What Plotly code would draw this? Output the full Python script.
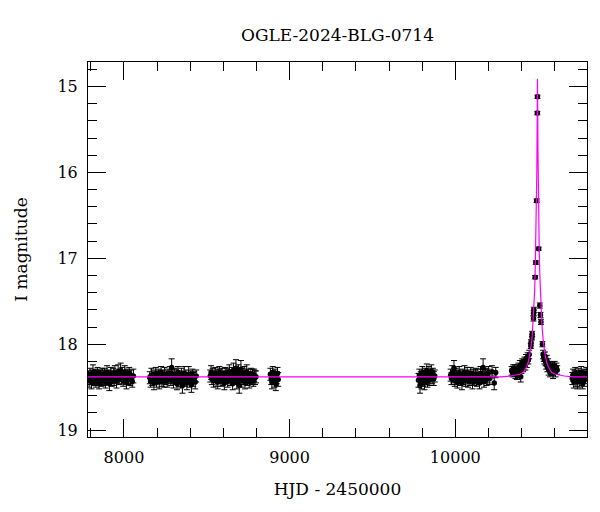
import plotly.graph_objects as go

# OGLE photometry (HJD - 2450000, I mag, error)
s1_hjd = [7786, 7790, 7795, 7799, 7804, 7808, 7813, 7818, 7822, 7827,
          7831, 7836, 7841, 7846, 7850, 7855, 7860, 7864, 7869, 7874,
          7879, 7883, 7888, 7893, 7898, 7902, 7907, 7912, 7917, 7921,
          7926, 7931, 7936, 7941, 7945, 7950, 7955, 7960, 7965, 7970,
          7975, 7980, 7985, 7990, 7995, 8000, 8005, 8010, 8015, 8020,
          8026, 8032, 8038, 8044, 8050, 8057]
s1_mag = [18.38, 18.42, 18.35, 18.40, 18.44, 18.37, 18.33, 18.41, 18.39, 18.36,
          18.43, 18.38, 18.34, 18.40, 18.45, 18.37, 18.39, 18.42, 18.35, 18.38,
          18.41, 18.36, 18.44, 18.39, 18.33, 18.40, 18.37, 18.46, 18.38, 18.35,
          18.42, 18.39, 18.36, 18.41, 18.34, 18.38, 18.43, 18.37, 18.32, 18.40,
          18.36, 18.31, 18.39, 18.35, 18.42, 18.37, 18.33, 18.40, 18.44, 18.36,
          18.39, 18.34, 18.41, 18.38, 18.43, 18.37]
s1_err = [0.07, 0.08, 0.07, 0.07, 0.08, 0.07, 0.09, 0.07, 0.08, 0.07,
          0.07, 0.08, 0.07, 0.08, 0.07, 0.07, 0.08, 0.07, 0.07, 0.08,
          0.07, 0.08, 0.07, 0.07, 0.08, 0.07, 0.07, 0.08, 0.07, 0.08,
          0.07, 0.07, 0.08, 0.07, 0.09, 0.07, 0.08, 0.07, 0.08, 0.07,
          0.07, 0.09, 0.07, 0.08, 0.07, 0.07, 0.08, 0.07, 0.08, 0.07,
          0.08, 0.07, 0.07, 0.08, 0.07, 0.08]

s2_hjd = [8156, 8161, 8166, 8171, 8176, 8181, 8187, 8192, 8197, 8202,
          8208, 8213, 8218, 8224, 8229, 8234, 8240, 8245, 8250, 8256,
          8261, 8266, 8272, 8277, 8283, 8288, 8293, 8299, 8304, 8310,
          8315, 8320, 8326, 8331, 8337, 8342, 8347, 8353, 8358, 8364,
          8369, 8374, 8380, 8385, 8391, 8396, 8402, 8407, 8413, 8418,
          8424, 8430, 8436]
s2_mag = [18.39, 18.43, 18.36, 18.41, 18.37, 18.45, 18.40, 18.34, 18.42, 18.38,
          18.36, 18.44, 18.39, 18.33, 18.41, 18.37, 18.43, 18.35, 18.40, 18.38,
          18.42, 18.36, 18.39, 18.34, 18.41, 18.27, 18.38, 18.43, 18.35, 18.40,
          18.37, 18.46, 18.33, 18.41, 18.38, 18.44, 18.36, 18.48, 18.39, 18.34,
          18.42, 18.37, 18.45, 18.40, 18.35, 18.43, 18.38, 18.47, 18.36, 18.41,
          18.39, 18.44, 18.37]
s2_err = [0.07, 0.07, 0.08, 0.07, 0.07, 0.08, 0.07, 0.07, 0.08, 0.07,
          0.07, 0.08, 0.07, 0.07, 0.08, 0.07, 0.07, 0.08, 0.07, 0.07,
          0.08, 0.07, 0.07, 0.08, 0.07, 0.10, 0.07, 0.08, 0.07, 0.07,
          0.08, 0.07, 0.07, 0.08, 0.07, 0.07, 0.08, 0.09, 0.07, 0.08,
          0.07, 0.07, 0.08, 0.07, 0.09, 0.07, 0.07, 0.09, 0.07, 0.08,
          0.07, 0.08, 0.07]

s3_hjd = [8521, 8526, 8531, 8536, 8541, 8546, 8551, 8556, 8561, 8566,
          8571, 8576, 8581, 8586, 8591, 8596, 8601, 8606, 8611, 8616,
          8621, 8626, 8631, 8636, 8641, 8646, 8651, 8656, 8661, 8666,
          8671, 8676, 8681, 8686, 8691, 8696, 8701, 8706, 8711, 8716,
          8721, 8726, 8731, 8736, 8741, 8746, 8751, 8756, 8761, 8766,
          8771, 8776, 8781, 8786, 8791, 8797]
s3_mag = [18.37, 18.33, 18.40, 18.35, 18.42, 18.38, 18.34, 18.41, 18.36, 18.44,
          18.39, 18.33, 18.37, 18.42, 18.35, 18.40, 18.38, 18.45, 18.34, 18.39,
          18.36, 18.43, 18.37, 18.32, 18.41, 18.38, 18.35, 18.46, 18.31, 18.40,
          18.36, 18.28, 18.44, 18.39, 18.33, 18.48, 18.37, 18.29, 18.42, 18.35,
          18.40, 18.34, 18.45, 18.38, 18.32, 18.41, 18.36, 18.43, 18.39, 18.35,
          18.40, 18.37, 18.42, 18.36, 18.39, 18.38]
s3_err = [0.07, 0.08, 0.07, 0.07, 0.08, 0.07, 0.07, 0.08, 0.07, 0.08,
          0.07, 0.07, 0.08, 0.07, 0.07, 0.08, 0.07, 0.08, 0.07, 0.07,
          0.08, 0.07, 0.07, 0.08, 0.07, 0.07, 0.08, 0.07, 0.09, 0.07,
          0.08, 0.10, 0.08, 0.07, 0.09, 0.09, 0.07, 0.10, 0.08, 0.07,
          0.07, 0.08, 0.07, 0.07, 0.08, 0.07, 0.07, 0.08, 0.07, 0.07,
          0.07, 0.08, 0.07, 0.07, 0.08, 0.07]

s4_hjd = [8884, 8889, 8893, 8898, 8903, 8908, 8912, 8917, 8922, 8927, 8931]
s4_mag = [18.35, 18.40, 18.44, 18.33, 18.38, 18.42, 18.36, 18.46, 18.39, 18.34, 18.41]
s4_err = [0.07, 0.07, 0.08, 0.07, 0.07, 0.08, 0.07, 0.08, 0.07, 0.07, 0.08]

s5_hjd = [9778, 9783, 9787, 9792, 9796, 9801, 9805, 9810, 9814, 9819, 9823,
          9828, 9832, 9837, 9841, 9846, 9850, 9855, 9860, 9865, 9870, 9876]
s5_mag = [18.42, 18.36, 18.48, 18.39, 18.44, 18.33, 18.41, 18.37, 18.45, 18.35, 18.40,
          18.31, 18.43, 18.38, 18.34, 18.41, 18.36, 18.32, 18.39, 18.35, 18.40, 18.37]
s5_err = [0.08, 0.07, 0.09, 0.07, 0.08, 0.07, 0.08, 0.07, 0.08, 0.07, 0.07,
          0.08, 0.07, 0.07, 0.08, 0.07, 0.07, 0.08, 0.07, 0.07, 0.08, 0.07]

s6_hjd = [9972, 9977, 9982, 9987, 9992, 9997, 10003, 10008, 10013, 10018,
          10024, 10029, 10034, 10040, 10045, 10050, 10056, 10061, 10066, 10072,
          10077, 10082, 10088, 10093, 10098, 10104, 10109, 10114, 10120, 10125,
          10130, 10136, 10141, 10146, 10152, 10157, 10162, 10168, 10173, 10178,
          10184, 10189, 10195, 10201, 10208, 10222, 10235, 10244]
s6_mag = [18.36, 18.40, 18.33, 18.38, 18.28, 18.42, 18.35, 18.39, 18.44, 18.37,
          18.34, 18.41, 18.38, 18.45, 18.36, 18.40, 18.33, 18.42, 18.38, 18.35,
          18.43, 18.37, 18.40, 18.34, 18.39, 18.44, 18.36, 18.41, 18.38, 18.35,
          18.42, 18.37, 18.40, 18.45, 18.34, 18.39, 18.36, 18.27, 18.43, 18.38,
          18.35, 18.41, 18.37, 18.33, 18.40, 18.32, 18.45, 18.33]
s6_err = [0.07, 0.07, 0.08, 0.07, 0.09, 0.07, 0.07, 0.08, 0.07, 0.07,
          0.08, 0.07, 0.07, 0.08, 0.07, 0.07, 0.08, 0.07, 0.07, 0.08,
          0.07, 0.07, 0.08, 0.07, 0.07, 0.08, 0.07, 0.07, 0.08, 0.07,
          0.07, 0.08, 0.07, 0.07, 0.08, 0.07, 0.07, 0.10, 0.07, 0.08,
          0.07, 0.07, 0.08, 0.07, 0.07, 0.07, 0.08, 0.06]

pre_hjd = [10340, 10345, 10349, 10354, 10358, 10363, 10367, 10372, 10376, 10381, 10386, 10390,
           10395, 10399, 10404, 10409, 10413, 10418, 10423, 10427, 10432, 10437, 10441, 10446]
pre_mag = [18.31, 18.33, 18.30, 18.32, 18.29, 18.34, 18.31, 18.36, 18.30, 18.27, 18.33, 18.25,
           18.38, 18.29, 18.22, 18.27, 18.24, 18.20, 18.25, 18.17, 18.21, 18.15, 18.18, 18.12]
pre_err = [0.05, 0.05, 0.06, 0.05, 0.05, 0.06, 0.05, 0.05, 0.06, 0.05, 0.05, 0.06,
           0.06, 0.05, 0.05, 0.05, 0.06, 0.05, 0.05, 0.05, 0.06, 0.05, 0.05, 0.05]

peak_hjd = [10456, 10457, 10463, 10464, 10472, 10473, 10474, 10482, 10486,
            10491, 10495, 10496, 10503, 10510, 10514, 10517, 10526]
peak_mag = [18.02, 17.98, 17.92, 17.88, 17.70, 17.64, 17.60, 17.22, 17.05,
            16.33, 15.31, 15.12, 16.89, 17.55, 17.66, 17.74, 18.00]
peak_err = [0.03, 0.03, 0.03, 0.03, 0.03, 0.03, 0.03, 0.02, 0.02,
            0.02, 0.02, 0.02, 0.02, 0.03, 0.03, 0.03, 0.03]

post_hjd = [10530, 10534, 10538, 10541, 10545, 10549, 10552, 10556, 10560, 10564, 10568,
            10572, 10577, 10581, 10586, 10590, 10595, 10600, 10605, 10610, 10615]
post_mag = [18.12, 18.15, 18.18, 18.14, 18.20, 18.24, 18.19, 18.27, 18.22, 18.30, 18.25,
            18.33, 18.28, 18.31, 18.26, 18.34, 18.29, 18.25, 18.32, 18.27, 18.30]
post_err = [0.05, 0.05, 0.05, 0.05, 0.05, 0.05, 0.06, 0.05, 0.05, 0.06, 0.05,
            0.05, 0.06, 0.05, 0.05, 0.06, 0.05, 0.05, 0.06, 0.05, 0.05]

s8_hjd = [10706, 10710, 10715, 10719, 10724, 10728, 10733, 10737, 10742, 10746,
          10751, 10755, 10760, 10764, 10769, 10773, 10778, 10782, 10787, 10791]
s8_mag = [18.40, 18.36, 18.43, 18.38, 18.34, 18.41, 18.37, 18.44, 18.39, 18.35,
          18.42, 18.38, 18.33, 18.40, 18.45, 18.37, 18.41, 18.36, 18.39, 18.34]
s8_err = [0.07, 0.07, 0.08, 0.07, 0.07, 0.08, 0.07, 0.08, 0.07, 0.07,
          0.08, 0.07, 0.07, 0.08, 0.07, 0.07, 0.08, 0.07, 0.07, 0.07]

# microlensing model curve, sampled from the plot
model_hjd = [7783, 10280, 10334, 10388, 10410, 10431, 10442, 10453, 10458, 10464,
             10469, 10474, 10479, 10482, 10485, 10487.4, 10489.5, 10492, 10493, 10494,
             10495, 10496, 10497, 10498, 10499, 10500, 10502.5, 10504.6, 10506.8, 10510,
             10513.3, 10517.6, 10523, 10528.4, 10533.8, 10539.2, 10550, 10561, 10582, 10604,
             10658, 10712, 10795]
model_mag = [18.38, 18.38, 18.37, 18.35, 18.33, 18.26, 18.20, 18.09, 18.01, 17.91,
             17.77, 17.58, 17.38, 17.18, 16.92, 16.69, 16.40, 16.01, 15.75, 15.44,
             15.10, 14.91, 15.10, 15.44, 15.75, 16.01, 16.40, 16.69, 16.92, 17.18,
             17.38, 17.58, 17.77, 17.91, 18.01, 18.09, 18.20, 18.26, 18.33, 18.35,
             18.37, 18.38, 18.38]

seasons = [
    (s1_hjd, s1_mag, s1_err), (s2_hjd, s2_mag, s2_err), (s3_hjd, s3_mag, s3_err),
    (s4_hjd, s4_mag, s4_err), (s5_hjd, s5_mag, s5_err), (s6_hjd, s6_mag, s6_err),
    (pre_hjd, pre_mag, pre_err), (peak_hjd, peak_mag, peak_err),
    (post_hjd, post_mag, post_err), (s8_hjd, s8_mag, s8_err),
]

hjd, mag, err = [], [], []
for t, m, e in seasons:
    hjd += t
    mag += m
    err += e

FONT = "DejaVu Serif"

fig = go.Figure()

fig.add_trace(
    go.Scatter(
        x=hjd,
        y=mag,
        mode='markers',
        marker=dict(color='black', size=5.5),
        error_y=dict(type='data', array=err, visible=True,
                     color='black', thickness=1, width=3),
        showlegend=False
    )
)

fig.add_trace(
    go.Scatter(
        x=model_hjd,
        y=model_mag,
        mode='lines',
        line=dict(color='#ff00ff', width=1.2),
        showlegend=False
    )
)

axis_common = dict(
    showline=True, linecolor='black', linewidth=1, mirror='allticks',
    ticks='inside', ticklen=18, tickwidth=1, tickcolor='black',
    showgrid=False, zeroline=False, tickformat='d',
    tickfont=dict(family=FONT, size=16, color='black'),
)

fig.update_xaxes(
    range=[7783, 10795], tick0=0, dtick=1000,
    minor=dict(dtick=200, tick0=0, ticks='inside', ticklen=9, tickcolor='black', showgrid=False),
    title=dict(text='HJD - 2450000', font=dict(family=FONT, size=17, color='black'), standoff=16),
    ticklabelstandoff=6,
    **axis_common
)

fig.update_yaxes(
    range=[19.08, 14.715], tick0=0, dtick=1,
    minor=dict(dtick=0.2, tick0=0, ticks='inside', ticklen=9, tickcolor='black', showgrid=False),
    title=dict(text='I magnitude', font=dict(family=FONT, size=17, color='black'), standoff=25),
    ticklabelstandoff=6,
    **axis_common
)

fig.update_layout(
    width=600,
    height=512,
    margin=dict(l=88, r=13, t=62, b=75),
    paper_bgcolor='white',
    plot_bgcolor='white',
    title=dict(text='OGLE-2024-BLG-0714', x=0.5, xref='paper', xanchor='center',
               y=1 - 35 / 512, yref='container', yanchor='middle',
               font=dict(family=FONT, size=17, color='black')),
    showlegend=False
)

# the page's default body margin would push the 600x512 figure off the window
fig.write_html("out.html", config={'displayModeBar': False},
               post_script="document.body.style.margin='0';")
